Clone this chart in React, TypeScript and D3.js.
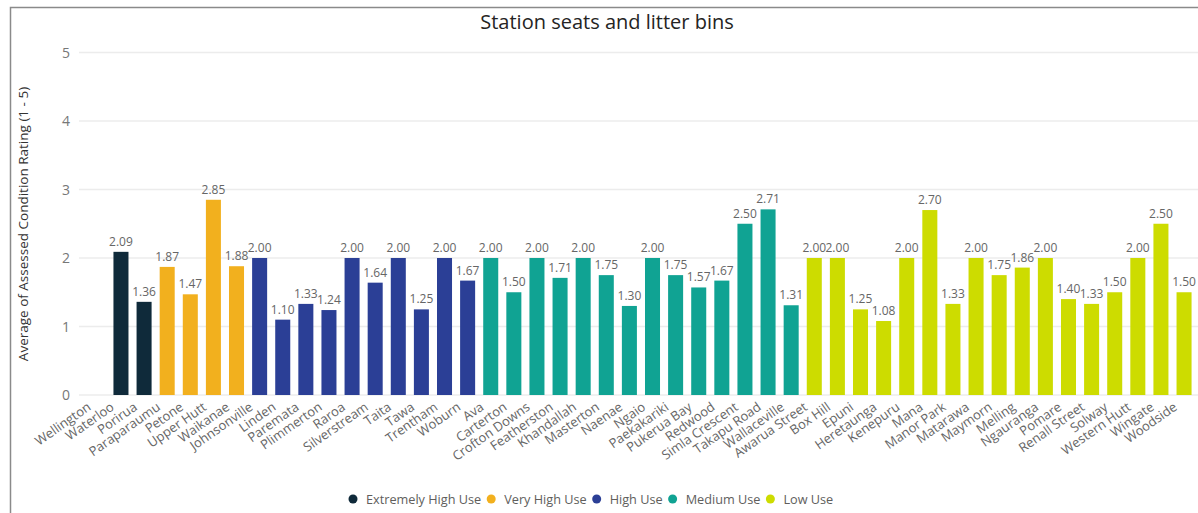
import React, { useEffect, useRef } from "react";
import * as d3 from "d3";

const stations = [
  "Wellington", "Waterloo", "Porirua", "Paraparaumu", "Petone", "Upper Hutt", "Waikanae",
  "Johnsonville", "Linden", "Paremata", "Plimmerton", "Raroa", "Silverstream", "Taita", "Tawa", "Trentham", "Woburn",
  "Ava", "Carterton", "Crofton Downs", "Featherston", "Khandallah", "Masterton", "Naenae", "Ngaio", "Paekakariki",
  "Pukerua Bay", "Redwood", "Simla Crescent", "Takapu Road", "Wallaceville",
  "Awarua Street", "Box Hill", "Epuni", "Heretaunga", "Kenepuru", "Mana", "Manor Park", "Matarawa", "Maymorn",
  "Melling", "Ngauranga", "Pomare", "Renall Street", "Solway", "Western Hutt", "Wingate", "Woodside",
];

const ratings: (number | null)[] = [
  null, 2.09, 1.36, 1.87, 1.47, 2.85, 1.88,
  2.0, 1.1, 1.33, 1.24, 2.0, 1.64, 2.0, 1.25, 2.0, 1.67,
  2.0, 1.5, 2.0, 1.71, 2.0, 1.75, 1.3, 2.0, 1.75,
  1.57, 1.67, 2.5, 2.71, 1.31,
  2.0, 2.0, 1.25, 1.08, 2.0, 2.7, 1.33, 2.0, 1.75,
  1.86, 2.0, 1.4, 1.33, 1.5, 2.0, 2.5, 1.5,
];

const usage = [
  "Extremely High Use", "Extremely High Use", "Extremely High Use",
  "Very High Use", "Very High Use", "Very High Use", "Very High Use",
  "High Use", "High Use", "High Use", "High Use", "High Use", "High Use", "High Use", "High Use", "High Use", "High Use",
  "Medium Use", "Medium Use", "Medium Use", "Medium Use", "Medium Use", "Medium Use", "Medium Use", "Medium Use", "Medium Use",
  "Medium Use", "Medium Use", "Medium Use", "Medium Use", "Medium Use",
  "Low Use", "Low Use", "Low Use", "Low Use", "Low Use", "Low Use", "Low Use", "Low Use", "Low Use",
  "Low Use", "Low Use", "Low Use", "Low Use", "Low Use", "Low Use", "Low Use", "Low Use",
];

const usageLevels = ["Extremely High Use", "Very High Use", "High Use", "Medium Use", "Low Use"];
const usageColors = ["#0f2a3a", "#f2b01e", "#2b3f96", "#10a393", "#cddc00"];
const yTicks = [0, 1, 2, 3, 4, 5];

const FONT = "'Segoe UI', 'Open Sans', 'Noto Sans', sans-serif";

export default function App() {
  const ref = useRef<SVGSVGElement>(null);

  useEffect(() => {
    const svg = d3.select(ref.current);
    svg.selectAll("*").remove();
    const W = 1198, H = 513;

    const x = d3.scaleBand<string>().domain(stations).range([86.3, 1195.6]).paddingInner(0.35).paddingOuter(0.175);
    const y = d3.scaleLinear().domain([0, 5]).range([395, 52.5]);
    const color = d3.scaleOrdinal<string, string>().domain(usageLevels).range(usageColors);

    svg.append("rect").attr("x", 0).attr("y", 0).attr("width", W).attr("height", H).attr("fill", "#fff");
    svg.append("path").attr("d", `M10.5,${H + 2} V7.5 H${W + 2}`).attr("fill", "none").attr("stroke", "#8a8a8a").attr("stroke-width", 1.5);

    svg.append("text").attr("x", 607).attr("y", 29).attr("text-anchor", "middle")
      .style("font-family", FONT).style("font-size", "20px").attr("fill", "#252423")
      .text("Station seats and litter bins");

    const g = svg.append("g");
    g.selectAll("line.grid").data(yTicks).join("line").attr("class", "grid")
      .attr("x1", 79).attr("x2", W).attr("y1", (d) => y(d)).attr("y2", (d) => y(d))
      .attr("stroke", "#ececec").attr("stroke-width", 1.5);

    g.selectAll("text.ytick").data(yTicks).join("text").attr("class", "ytick")
      .attr("x", 70).attr("y", (d) => y(d) + 5).attr("text-anchor", "end")
      .style("font-family", FONT).style("font-size", "14px").attr("fill", "#777")
      .text((d) => String(d));

    svg.append("text").attr("transform", `translate(28,${224}) rotate(-90)`).attr("text-anchor", "middle")
      .style("font-family", FONT).style("font-size", "13.5px").attr("fill", "#333")
      .text("Average of Assessed Condition Rating (1 - 5)");

    const data = stations.map((s, i) => ({ s, v: ratings[i], u: usage[i] }));
    const withVal = data.filter((d) => d.v !== null) as { s: string; v: number; u: string }[];

    g.selectAll("rect.bar").data(withVal).join("rect").attr("class", "bar")
      .attr("x", (d) => x(d.s)!).attr("width", x.bandwidth())
      .attr("y", (d) => y(d.v)).attr("height", (d) => y(0) - y(d.v))
      .attr("fill", (d) => color(d.u));

    g.selectAll("text.val").data(withVal).join("text").attr("class", "val")
      .attr("x", (d) => x(d.s)! + x.bandwidth() / 2).attr("y", (d) => y(d.v) - 6)
      .attr("text-anchor", "middle").style("font-family", FONT).style("font-size", "12px").attr("fill", "#666")
      .text((d) => d.v.toFixed(2));

    g.selectAll("text.xlab").data(stations).join("text").attr("class", "xlab")
      .attr("transform", (d) => `translate(${x(d)! + x.bandwidth() / 2 - 6},${409}) rotate(-35)`)
      .attr("text-anchor", "end").style("font-family", FONT).style("font-size", "13px").attr("fill", "#666")
      .text((d) => d);

    const lg = svg.append("g");
    let cx = 353;
    usageLevels.forEach((u, i) => {
      lg.append("circle").attr("cx", cx).attr("cy", 499).attr("r", 4.5).attr("fill", usageColors[i]);
      const t = lg.append("text").attr("x", cx + 13).attr("y", 504)
        .style("font-family", FONT).style("font-size", "12.7px").attr("fill", "#605e5c").text(u);
      const w = (t.node() as SVGTextElement).getComputedTextLength();
      cx = cx + 13 + w + 10;
    });
  }, []);

  return <svg ref={ref} width={1198} height={513} style={{ display: "block", position: "absolute", left: 0, top: 0 }} />;
}
